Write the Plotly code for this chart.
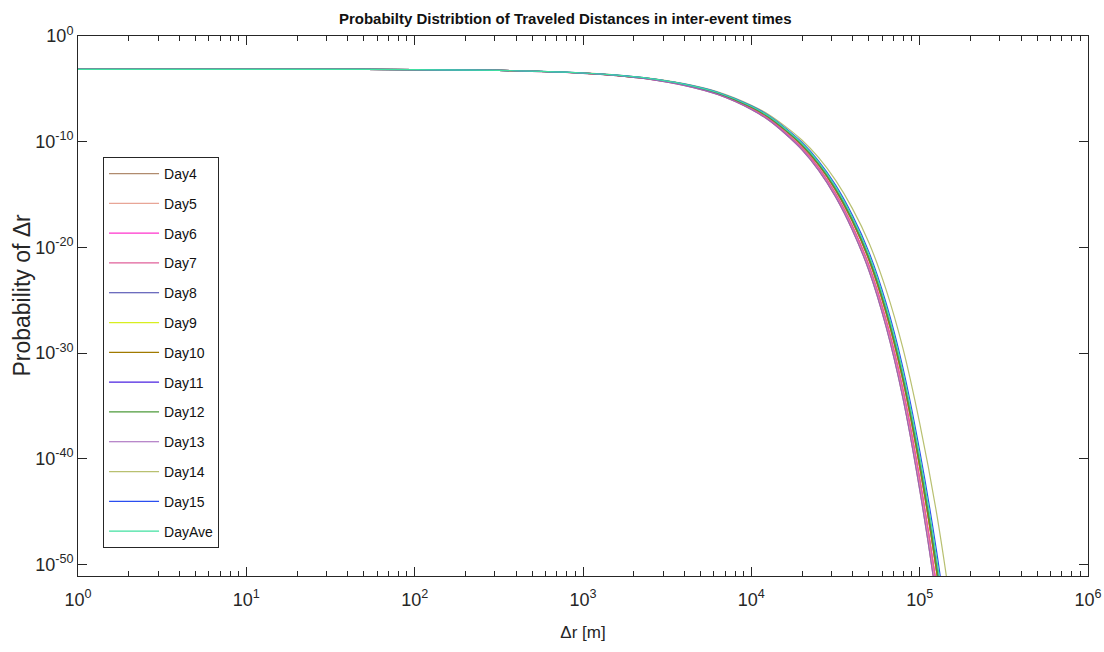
import plotly.graph_objects as go

# distance grid [m]
dist_m = [1, 3.16, 10, 31.6, 100, 316, 562, 1000, 1585, 2512, 3981, 6310, 10000,
          12589, 15849, 19953, 25119, 31623, 39811, 50119, 63096, 79433, 100000, 125893, 158489]

# log10 of probability per series
day4 = [-3.15,-3.15,-3.15,-3.16,-3.18,-3.26,-3.37,-3.53,-3.76,-4.11,-4.67,-5.54,-6.95,-7.93,-9.23,-10.75,-12.71,-15.20,-18.35,-22.26,-27.48,-34.21,-42.90,-53.32,-66.14]
day5 = [-3.15,-3.15,-3.15,-3.16,-3.18,-3.26,-3.36,-3.52,-3.75,-4.09,-4.65,-5.51,-6.90,-7.86,-9.15,-10.65,-12.57,-15.04,-18.14,-22.00,-27.14,-33.78,-42.35,-52.63,-65.27]
day6 = [-3.15,-3.15,-3.15,-3.16,-3.18,-3.26,-3.36,-3.52,-3.74,-4.08,-4.63,-5.48,-6.85,-7.80,-9.07,-10.55,-12.45,-14.88,-17.95,-21.75,-26.83,-33.38,-41.84,-51.98,-64.46]
day7 = [-3.15,-3.15,-3.15,-3.16,-3.18,-3.26,-3.36,-3.52,-3.74,-4.08,-4.63,-5.48,-6.85,-7.80,-9.07,-10.55,-12.45,-14.88,-17.95,-21.75,-26.83,-33.38,-41.84,-51.98,-64.46]
day8 = [-3.15,-3.15,-3.15,-3.16,-3.18,-3.25,-3.36,-3.51,-3.73,-4.05,-4.59,-5.41,-6.75,-7.67,-8.91,-10.35,-12.20,-14.56,-17.54,-21.24,-26.18,-32.55,-40.77,-50.64,-62.77]
day9 = [-3.15,-3.15,-3.15,-3.16,-3.18,-3.25,-3.36,-3.51,-3.73,-4.05,-4.59,-5.41,-6.75,-7.67,-8.91,-10.35,-12.20,-14.56,-17.54,-21.24,-26.18,-32.55,-40.77,-50.64,-62.77]
day10 = [-3.15,-3.15,-3.15,-3.16,-3.18,-3.25,-3.36,-3.51,-3.73,-4.05,-4.59,-5.41,-6.75,-7.67,-8.91,-10.35,-12.20,-14.56,-17.54,-21.24,-26.18,-32.55,-40.77,-50.64,-62.77]
day11 = [-3.15,-3.15,-3.15,-3.16,-3.18,-3.25,-3.35,-3.50,-3.72,-4.04,-4.57,-5.38,-6.70,-7.61,-8.83,-10.25,-12.07,-14.41,-17.35,-21.00,-25.86,-32.15,-40.26,-50.00,-61.96]
day12 = [-3.15,-3.15,-3.15,-3.16,-3.18,-3.25,-3.35,-3.50,-3.72,-4.04,-4.57,-5.38,-6.70,-7.61,-8.83,-10.25,-12.07,-14.41,-17.35,-21.00,-25.86,-32.15,-40.26,-50.00,-61.96]
day13 = [-3.15,-3.15,-3.15,-3.16,-3.18,-3.26,-3.37,-3.53,-3.76,-4.11,-4.67,-5.54,-6.95,-7.93,-9.23,-10.75,-12.71,-15.20,-18.35,-22.26,-27.48,-34.21,-42.90,-53.32,-66.14]
day14 = [-3.15,-3.15,-3.15,-3.16,-3.18,-3.25,-3.34,-3.49,-3.69,-4.00,-4.51,-5.28,-6.55,-7.40,-8.53,-9.84,-11.51,-13.64,-16.31,-19.61,-23.98,-29.52,-36.64,-45.10,-55.64]
day15 = [-3.15,-3.15,-3.15,-3.16,-3.18,-3.25,-3.35,-3.50,-3.70,-4.02,-4.53,-5.32,-6.60,-7.49,-8.67,-10.05,-11.83,-14.09,-16.95,-20.50,-25.24,-31.35,-39.24,-48.70,-60.34]
dayave = [-3.15,-3.15,-3.15,-3.16,-3.18,-3.25,-3.35,-3.50,-3.71,-4.03,-4.55,-5.35,-6.65,-7.55,-8.75,-10.15,-11.95,-14.25,-17.15,-20.75,-25.55,-31.75,-39.75,-49.35,-61.15]

names = ["Day4", "Day5", "Day6", "Day7", "Day8", "Day9", "Day10", "Day11",
         "Day12", "Day13", "Day14", "Day15", "DayAve"]
series = [day4, day5, day6, day7, day8, day9, day10, day11, day12, day13, day14, day15, dayave]
colors = ["#b08b6e", "#e8a596", "#ff33cc", "#e0609a", "#3c3ca8", "#d8ee20", "#a07a00",
          "#4a22e0", "#4c9a3a", "#a060b8", "#b8c070", "#2a4ef0", "#40e0a0"]

x_tick_vals = [1, 10, 100, 1000, 10000, 100000, 1000000]
x_tick_text = ["10<sup>0</sup>", "10<sup>1</sup>", "10<sup>2</sup>", "10<sup>3</sup>",
               "10<sup>4</sup>", "10<sup>5</sup>", "10<sup>6</sup>"]
y_tick_vals = [1, 1e-10, 1e-20, 1e-30, 1e-40, 1e-50]
y_tick_text = ["10<sup>0</sup>", "10<sup>-10</sup>", "10<sup>-20</sup>", "10<sup>-30</sup>",
               "10<sup>-40</sup>", "10<sup>-50</sup>"]
x_minor_vals = [m * 10 ** k for k in range(6) for m in range(2, 10)]

REG = "Liberation Sans, Arial, sans-serif"
INK = "#262626"

fig = go.Figure()
for name, vals, col in zip(names, series, colors):
    fig.add_trace(go.Scatter(
        x=dist_m, y=[10 ** v for v in vals], mode="lines", name=name,
        legendgroup=name, line=dict(color=col, width=1.2, shape="spline"),
    ))

tick_font = dict(family=REG, size=18, color=INK)
fig.update_layout(
    width=1104, height=652,
    margin=dict(l=78, r=16, t=36, b=76),
    paper_bgcolor="white", plot_bgcolor="white",
    title=dict(text="<b>Probabilty Distribtion of Traveled Distances in inter-event times</b>",
               x=0.512, xanchor="center", y=0.972, yanchor="middle",
               font=dict(family=REG, size=15, color="#111111")),
    legend=dict(x=0.0248, y=0.776, xanchor="left", yanchor="top",
                bordercolor=INK, borderwidth=1, bgcolor="white",
                font=dict(family=REG, size=14, color="#111111"),
                traceorder="grouped", tracegroupgap=8.6, itemwidth=50),
    showlegend=True,
    annotations=[dict(text="Probability of Δr", xref="paper", yref="paper",
                      x=-0.0555, y=0.521, xanchor="center", yanchor="middle",
                      textangle=-90, showarrow=False,
                      font=dict(family=REG, size=23, color=INK))],
)
fig.update_xaxes(
    type="log", range=[0, 6], automargin=False,
    tickvals=x_tick_vals, ticktext=x_tick_text,
    ticks="inside", ticklen=9, tickcolor=INK, ticklabelstandoff=7,
    minor=dict(tickvals=x_minor_vals, ticks="inside", ticklen=5, tickcolor=INK),
    showline=True, linecolor=INK, linewidth=1, mirror="allticks",
    showgrid=False, zeroline=False, tickfont=tick_font,
    title=dict(text="Δr [m]", font=dict(family=REG, size=17, color=INK), standoff=17),
)
fig.update_yaxes(
    type="log", range=[-51.1, 0], automargin=False,
    tickvals=y_tick_vals, ticktext=y_tick_text,
    ticks="inside", ticklen=9, tickcolor=INK,
    showline=True, linecolor=INK, linewidth=1, mirror="allticks",
    showgrid=False, zeroline=False, tickfont=tick_font,
)

fig.write_html("out.html")
